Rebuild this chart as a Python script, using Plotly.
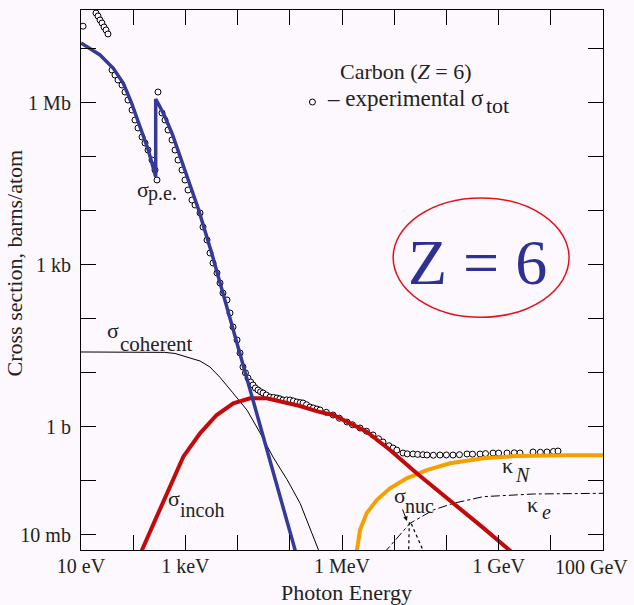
import numpy as np
import plotly.graph_objects as go

SERIF = "Liberation Serif"
BG = "#fdf8fd"
INK = "#222"

# ---- data: log10(photon energy / eV) and log10(cross section / barns per atom) ----
exp_log_e = [1.04, 1.287, 1.326, 1.364, 1.402, 1.441, 1.479, 1.517,
             1.594, 1.651, 1.709, 1.785, 1.843, 1.900, 1.977, 2.034, 2.092, 2.169,
             2.226, 2.284, 2.360, 2.418, 2.456, 2.475,
             2.552, 2.609, 2.667, 2.743, 2.801, 2.858, 2.935, 2.992, 3.050, 3.126,
             3.184, 3.280, 3.337, 3.414, 3.471, 3.529, 3.605, 3.663, 3.720, 3.797,
             3.854, 3.912, 3.989, 4.046, 4.103, 4.15, 4.199, 4.25, 4.295, 4.34,
             4.391, 4.44, 4.487, 4.55, 4.621, 4.69, 4.755, 4.81, 4.870, 4.94,
             5.004, 5.07, 5.138, 5.20, 5.253, 5.32, 5.387, 5.45, 5.521, 5.579,
             5.70, 5.828, 5.95, 6.096, 6.20, 6.345, 6.47, 6.594, 6.70, 6.785,
             6.90, 6.977, 7.05, 7.169, 7.25, 7.360, 7.45, 7.55, 7.628, 7.75,
             7.877, 8.00, 8.126, 8.25, 8.395, 8.50, 8.644, 8.75, 8.893, 9.00,
             9.161, 9.30, 9.410, 9.659, 9.80, 9.927, 10.05, 10.138]
exp_log_sigma = [7.42, 7.664, 7.609, 7.535, 7.479, 7.405, 7.350, 7.276,
                 6.609, 6.516, 6.424, 6.331, 6.201, 6.053, 5.868, 5.683, 5.535, 5.368,
                 5.257, 5.127, 4.942, 4.757, 4.572, 6.201,
                 5.813, 5.683, 5.498, 5.313, 5.127, 4.942, 4.757, 4.572, 4.387, 4.201,
                 4.109, 3.961, 3.701, 3.461, 3.220, 3.035, 2.850, 2.664, 2.479, 2.350,
                 2.109, 1.850, 1.609, 1.368, 1.109, 1.00, 0.905, 0.83, 0.776, 0.72,
                 0.683, 0.65, 0.627, 0.59, 0.553, 0.545, 0.535, 0.52, 0.498, 0.50,
                 0.498, 0.48, 0.461, 0.45, 0.442, 0.41, 0.368, 0.35, 0.331, 0.313,
                 0.27, 0.220, 0.16, 0.090, 0.04, -0.021, -0.08, -0.150, -0.22, -0.280,
                 -0.35, -0.391, -0.43, -0.484, -0.50, -0.502, -0.51, -0.515, -0.521, -0.525,
                 -0.521, -0.52, -0.521, -0.515, -0.502, -0.505, -0.502, -0.495, -0.484, -0.485,
                 -0.484, -0.48, -0.484, -0.465, -0.47, -0.465, -0.455, -0.447]

pe_log_e = [1.0, 1.364, 1.619, 1.811, 1.971, 2.130, 2.289, 2.431,
            2.431, 2.50, 2.60, 2.75, 3.0, 3.25, 3.5, 3.75, 4.0, 4.3, 4.6, 4.9, 5.2]
pe_log_sigma = [7.11, 6.887, 6.640, 6.363, 5.992, 5.559, 5.127, 4.633,
                6.07, 5.95, 5.76, 5.42, 4.73, 4.03, 3.23, 2.37, 1.52, 0.50, -0.53, -1.57, -2.62]

coh_log_e = [1.0, 2.3, 2.6, 2.8, 3.03, 3.28, 3.47, 3.66, 3.91, 4.18, 4.43, 4.68,
             4.95, 5.2, 5.55, 5.62]
coh_log_sigma = [1.387, 1.387, 1.38, 1.36, 1.29, 1.22, 1.11, 0.92, 0.63, 0.31, -0.11, -0.56,
                 -0.98, -1.42, -2.28, -2.45]

incoh_log_e = [2.12, 2.169, 2.450, 2.641, 2.960, 3.280, 3.599, 3.918, 4.238, 4.557, 4.876,
               5.195, 5.546, 5.833, 6.473, 6.920, 7.431, 8.069, 8.707, 9.35]
incoh_log_sigma = [-2.40, -2.28, -1.663, -1.23, -0.552, -0.119, 0.22, 0.436, 0.529, 0.529, 0.467,
                   0.387, 0.282, 0.22, -0.089, -0.428, -0.86, -1.354, -1.87, -2.40]

kn_log_e = [6.26, 6.281, 6.345, 6.473, 6.665, 6.920, 7.239, 7.623, 8.069, 8.707, 9.346, 10.304, 11.0]
kn_log_sigma = [-2.45, -2.28, -1.91, -1.601, -1.354, -1.138, -0.953, -0.799, -0.675, -0.582,
                -0.539, -0.527, -0.527]

ke_log_e = [6.80, 6.856, 7.303, 7.749, 8.132, 8.707, 9.665, 11.0]
ke_log_sigma = [-2.34, -2.28, -1.786, -1.539, -1.416, -1.292, -1.243, -1.23]

nuc_log_e = [7.27, 7.29, 7.33, 7.45, 7.56]
nuc_log_sigma = [-2.6, -1.76, -1.80, -2.06, -2.30]

x_tick_exp = list(range(1, 12))
x_tick_text = ["10 eV", "", "1 keV", "", "", "1 MeV", "", "", "1 GeV", "", ""]
y_tick_exp = list(range(-2, 8))
y_tick_text = ["10 mb", "", "1 b", "", "", "1 kb", "", "", "1 Mb", ""]


def lin(v):
    return 10 ** np.asarray(v, dtype=float)


fig = go.Figure()

# measured total cross section; its key symbol is shown through the legend
fig.add_trace(go.Scatter(
    x=lin(exp_log_e), y=lin(exp_log_sigma), mode="markers", name="",
    marker=dict(symbol="circle", size=6, color=BG, line=dict(color="black", width=1)),
    showlegend=True))

fig.add_trace(go.Scatter(x=lin(coh_log_e), y=lin(coh_log_sigma), mode="lines",
                         line=dict(color="black", width=1), showlegend=False))
fig.add_trace(go.Scatter(x=lin(nuc_log_e), y=lin(nuc_log_sigma), mode="lines",
                         line=dict(color="black", width=1.2, dash="dot"), showlegend=False))
fig.add_trace(go.Scatter(x=lin(ke_log_e), y=lin(ke_log_sigma), mode="lines",
                         line=dict(color="black", width=1, dash="dashdot"), showlegend=False))
fig.add_trace(go.Scatter(x=lin(kn_log_e), y=lin(kn_log_sigma), mode="lines",
                         line=dict(color="#f5a000", width=4), showlegend=False))
fig.add_trace(go.Scatter(x=lin(incoh_log_e), y=lin(incoh_log_sigma), mode="lines",
                         line=dict(color="#c20a0a", width=4), showlegend=False))
fig.add_trace(go.Scatter(x=lin(pe_log_e), y=lin(pe_log_sigma), mode="lines",
                         line=dict(color="#353a9a", width=3.5), showlegend=False))

axis_common = dict(
    type="log", ticks="inside", ticklen=15, tickwidth=1.2, tickcolor="black",
    showline=True, linecolor="black", linewidth=1.2, mirror="ticks",
    showgrid=False, zeroline=False,
    tickfont=dict(family=SERIF, size=20, color=INK),
)
fig.update_xaxes(range=[1, 11], tickvals=lin(x_tick_exp), ticktext=x_tick_text,
                 ticklabelstandoff=-2, **axis_common)
fig.update_yaxes(range=[-2.28, 7.72], tickvals=lin(y_tick_exp), ticktext=y_tick_text,
                 ticklabelstandoff=5, **axis_common)

ann = []


def label(x, y, text, size, italic=False, ref="x"):
    t = f"<i>{text}</i>" if italic else text
    yref = "y" if ref == "x" else "paper"
    ann.append(dict(x=x, y=y, xref=ref, yref=yref, text=t, showarrow=False,
                    xanchor="left", yanchor="middle",
                    font=dict(family=SERIF, size=size, color=INK)))


# curve labels (positions in log10 units of the axes)
label(2.034, 4.394, "σ", 22)
label(2.245, 4.313, "p.e.", 20)
label(1.460, 1.776, "σ", 22)
label(1.709, 1.544, "coherent", 21)
label(2.630, -1.328, "σ", 22)
label(2.860, -1.539, "incoh", 20)
label(6.958, -1.273, "σ", 22)
label(7.169, -1.456, "nuc", 20)
label(9.027, -0.717, "κ", 22)
label(9.276, -0.891, "N", 20, italic=True)
label(9.506, -1.439, "κ", 22)
label(9.793, -1.576, "e", 20, italic=True)

# key text next to the legend symbol
ann.append(dict(x=0.6226, y=0.8861, xref="paper", yref="paper",
                text="Carbon (<i>Z</i> = 6)", showarrow=False,
                xanchor="center", yanchor="middle",
                font=dict(family=SERIF, size=22, color=INK)))
label(0.4674, 0.8361, "– experimental σ", 23, ref="paper")
label(0.7715, 0.8225, "tot", 22, ref="paper")

# arrow from the σ_nuc label to the resonance peak
ann.append(dict(x=7.245, y=-1.743, xref="x", yref="y", text="", showarrow=True,
                ax=-5, ay=-13, arrowhead=2, arrowsize=0.9, arrowwidth=1, arrowcolor="black"))

ann.append(dict(x=1.0517, y=-0.0315, xref="paper", yref="paper", text="100 GeV",
                showarrow=False, xanchor="right", yanchor="middle",
                font=dict(family=SERIF, size=20, color=INK)))
ann.append(dict(x=0.5077, y=-0.079, xref="paper", yref="paper", text="Photon Energy",
                showarrow=False, xanchor="center", yanchor="middle",
                font=dict(family=SERIF, size=22, color=INK)))
ann.append(dict(x=-0.1255, y=0.5315, xref="paper", yref="paper",
                text="Cross section, barns/atom", textangle=-90,
                showarrow=False, xanchor="center", yanchor="middle",
                font=dict(family=SERIF, size=22, color=INK)))
ann.append(dict(x=0.7605, y=0.5333, xref="paper", yref="paper", text="Z = 6",
                showarrow=False, xanchor="center", yanchor="middle",
                font=dict(family=SERIF, size=64, color="#2e3192")))

fig.update_layout(
    width=634, height=605, autosize=False,
    margin=dict(l=81, r=31, t=10, b=55, pad=0),
    paper_bgcolor=BG, plot_bgcolor=BG,
    annotations=ann,
    shapes=[dict(type="circle", xref="paper", yref="paper",
                 x0=0.598, x1=0.935, y0=0.431, y1=0.652,
                 line=dict(color="#e3121a", width=1.5))],
    legend=dict(x=0.405, y=0.8296, xanchor="left", yanchor="middle",
                bgcolor="rgba(0,0,0,0)", borderwidth=0,
                font=dict(family=SERIF, size=12, color=INK)),
)

fig.write_html("out.html")
